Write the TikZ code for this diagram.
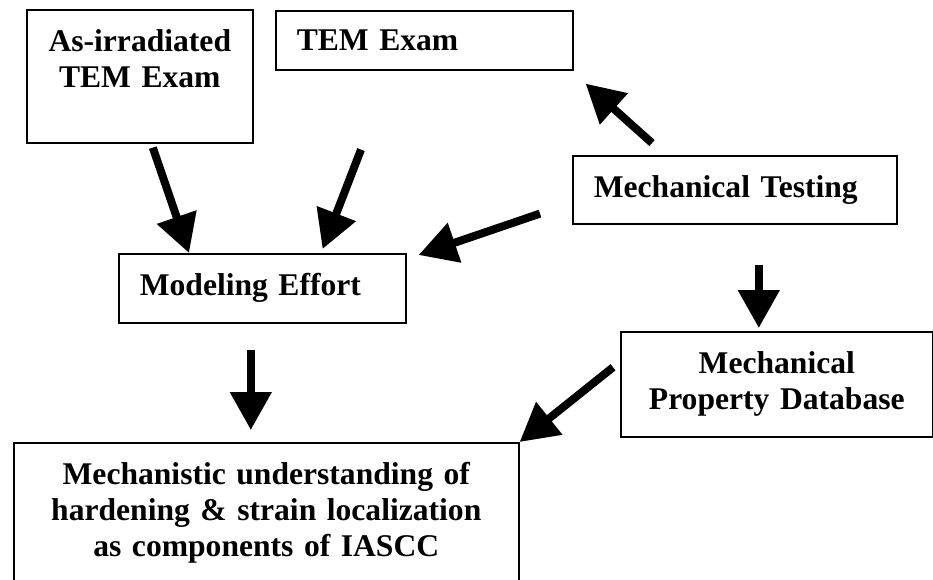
\documentclass[tikz,border=0pt]{standalone}
\usepackage{fontspec}
\setmainfont{Liberation Serif}
\usetikzlibrary{arrows.meta, positioning, calc}

\begin{document}
\begin{tikzpicture}[x=1pt, y=-1pt,
      bx/.style={draw, line width=1.6pt, anchor=north west, inner ysep=0pt, font=\bfseries\fontsize{31.6}{36}\selectfont},
      bxl/.style={bx, align=left, inner xsep=21pt},
      bxc/.style={bx, align=center, inner xsep=4pt},
      bigarrow/.style={line width=8pt, -{Triangle[length=38pt, width=40pt]}}]
    \useasboundingbox (0,0) rectangle (933,580);
    \clip (0,0) rectangle (933,580);
    \node[bxc, minimum width=226pt, minimum height=133pt, text width=218pt] (asirr) at (26,9) {As-irradiated\\TEM Exam\\\mbox{}};
    \node[bxl, minimum width=297pt, minimum height=59pt, text width=255pt] (tem) at (275,10) {TEM Exam};
    \node[bxl, minimum width=324pt, minimum height=68pt, text width=282pt] (mtest) at (572,155) {Mechanical Testing};
    \node[bxl, minimum width=287pt, minimum height=69pt, text width=245pt] (model) at (118,253) {Modeling Effort};
    \node[bxc, minimum width=312pt, minimum height=105pt, text width=304pt] (mdb) at (620,331) {Mechanical\\Property Database};
    \node[bxc, minimum width=505pt, minimum height=140pt, text width=497pt] (goal) at (13,442) {Mechanistic understanding of\\hardening \& strain localization\\as components of IASCC};
    \draw[bigarrow] ($(asirr.south)+(13,4)$) -- ($(model.north west)+(71,0)$);
    \draw[bigarrow] ($(tem.south west)+(86,79)$) -- ($(model.north east)+(-84,-4)$);
    \draw[bigarrow] ($(mtest.south west)+(-32,-11)$) -- ($(model.north east)+(12,2)$);
    \draw[bigarrow] ($(mtest.north west)+(80,-12)$) -- ($(tem.south east)+(12,13)$);
    \draw[bigarrow] ($(mtest.south)+(24,40)$) -- ($(mdb.north)+(-18,-3)$);
    \draw[bigarrow] ($(model.south)+(-11.5,26)$) -- ($(goal.north)+(-15.5,-12)$);
    \draw[bigarrow] ($(mdb.west)+(-7,-17)$) -- (goal.north east);
  \end{tikzpicture}
\end{document}
